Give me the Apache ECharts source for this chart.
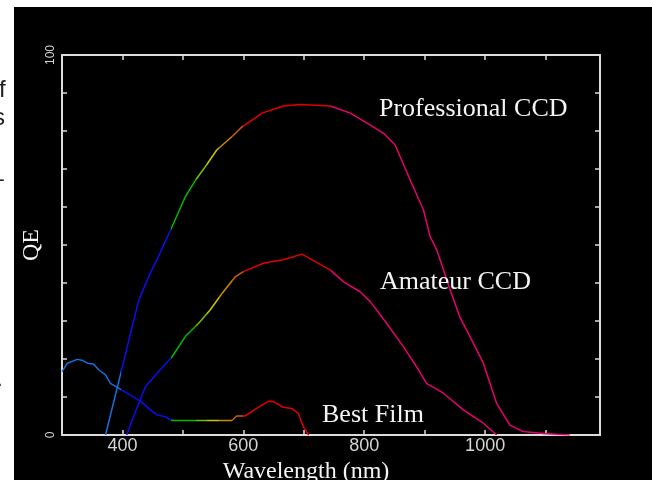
<!DOCTYPE html>
<html>
<head>
<meta charset="utf-8">
<script src="https://cdn.jsdelivr.net/npm/echarts@6/dist/echarts.min.js"></script>
<style>
html,body{margin:0;padding:0;background:#fff;}
#chart{width:652px;height:480px;}
</style>
</head>
<body>
<div id="chart"></div>
<script>
// Wavelength (nm) and QE (%)
const proX  = [372, 400, 416, 427, 446, 457, 482, 504, 521, 537, 556, 581, 598, 631, 666, 694, 744, 777, 815, 832, 851, 876, 898, 909, 920, 942, 958, 975, 997, 1019, 1041, 1063, 1096, 1140];
const proQE = [0, 18.0, 28.5, 35.5, 42.6, 46.1, 54.8, 62.7, 67.1, 70.6, 75.0, 78.5, 81.1, 84.7, 86.6, 87.0, 86.6, 84.7, 81.1, 79.4, 76.3, 67.1, 59.2, 52.2, 48.7, 38.2, 31.1, 25.9, 18.9, 8.3, 2.6, 0.9, 0.4, 0];

const amaX  = [407, 416, 438, 457, 482, 504, 526, 545, 565, 587, 600, 633, 666, 697, 744, 766, 793, 810, 837, 865, 890, 903, 931, 964, 997, 1019];
const amaQE = [0, 3.9, 12.7, 16.2, 20.6, 25.9, 29.4, 32.9, 37.3, 41.7, 43.0, 45.2, 46.1, 47.6, 43.4, 40.3, 37.7, 35.1, 29.4, 23.2, 17.1, 13.6, 11.0, 6.6, 3.1, 0];

const filmX  = [300, 309, 325, 333, 342, 352, 361, 372, 380, 391, 413, 430, 446, 457, 471, 482, 581, 589, 603, 622, 642, 650, 666, 680, 691, 699, 708];
const filmQE = [16.7, 18.9, 19.9, 19.7, 18.9, 18.7, 17.1, 15.8, 13.6, 12.6, 10.5, 8.9, 6.6, 5.3, 4.8, 3.8, 3.8, 5.0, 5.0, 7.0, 8.9, 8.8, 7.3, 7.0, 5.7, 2.2, 0];

const seriesNames = ['Professional CCD', 'Amateur CCD', 'Best Film'];
const xTickLabels = [400, 600, 800, 1000];
const yTickLabels = [0, 100];

const zip = (xs, ys) => xs.map((x, i) => [x, ys[i]]);

const chart = echarts.init(document.getElementById('chart'), null, {renderer: 'canvas'});

const frame = '#dcdcdc';
const textWhite = '#f4f4f4';
const serif = '"Liberation Serif", "Times New Roman", serif';

function lineSeries(name, data) {
  return {
    name: name,
    type: 'line',
    data: data,
    showSymbol: false,
    symbol: 'none',
    smooth: false,
    lineStyle: {width: 1.5},
    xAxisIndex: 0,
    yAxisIndex: 0,
    z: 3
  };
}

chart.setOption({
  backgroundColor: '#ffffff',
  animation: false,
  grid: {left: 62, top: 55, right: 52, bottom: 45, outerBoundsMode: 'none'},
  visualMap: {
    type: 'piecewise',
    show: false,
    dimension: 0,
    seriesIndex: [0, 1, 2],
    pieces: [
      {lt: 397, color: '#1470dc'},
      {gte: 397, lt: 480, color: '#0c0cf0'},
      {gte: 480, lt: 522, color: '#00b800'},
      {gte: 522, lt: 540, color: '#70c000'},
      {gte: 540, lt: 560, color: '#c8c400'},
      {gte: 560, lt: 582, color: '#cc8800'},
      {gte: 582, lt: 600, color: '#cc6000'},
      {gte: 600, lt: 745, color: '#e00000'},
      {gte: 745, color: '#e8006c'}
    ]
  },
  xAxis: [
    {
      type: 'value', position: 'bottom', min: 300, max: 1190, interval: 100,
      name: 'Wavelength (nm)', nameLocation: 'middle', nameGap: 21,
      nameTextStyle: {color: textWhite, fontFamily: serif, fontSize: 24, padding: [0, 50, 0, 0]},
      axisLine: {show: true, onZero: false, lineStyle: {color: frame, width: 2}},
      axisTick: {show: true, inside: true, length: 5, lineStyle: {color: frame, width: 1.5}},
      axisLabel: {
        show: true, margin: 2, color: '#d4d4d4',
        fontFamily: '"Liberation Sans", Arial, sans-serif', fontSize: 18,
        formatter: v => xTickLabels.includes(v) ? String(v) : ''
      },
      splitLine: {show: false}
    },
    {
      type: 'value', position: 'top', min: 300, max: 1190, interval: 100,
      axisLine: {show: true, onZero: false, lineStyle: {color: frame, width: 2}},
      axisTick: {show: true, inside: true, length: 5, lineStyle: {color: frame, width: 1.5}},
      axisLabel: {show: false},
      splitLine: {show: false}
    }
  ],
  yAxis: [
    {
      type: 'value', position: 'left', min: 0, max: 100, interval: 10,
      name: 'QE', nameLocation: 'middle', nameGap: 18, nameRotate: 90, nameMoveOverlap: false,
      nameTextStyle: {color: textWhite, fontFamily: serif, fontSize: 24},
      axisLine: {show: true, onZero: false, lineStyle: {color: frame, width: 2}},
      axisTick: {show: true, inside: true, length: 5, lineStyle: {color: frame, width: 1.5}},
      axisLabel: {
        show: true, rotate: 90, margin: 5, color: '#d4d4d4',
        fontFamily: '"Liberation Sans", Arial, sans-serif', fontSize: 12,
        formatter: v => yTickLabels.includes(v) ? String(v) : ''
      },
      splitLine: {show: false}
    },
    {
      type: 'value', position: 'right', min: 0, max: 100, interval: 10,
      axisLine: {show: true, onZero: false, lineStyle: {color: frame, width: 2}},
      axisTick: {show: true, inside: true, length: 5, lineStyle: {color: frame, width: 1.5}},
      axisLabel: {show: false},
      splitLine: {show: false}
    }
  ],
  graphic: [
    {type: 'rect', z: -100, silent: true, shape: {x: 14, y: 7, width: 640, height: 475}, style: {fill: '#000000'}},
    {type: 'text', z: 100, left: 379, top: 96, style: {text: seriesNames[0], fill: textWhite, font: '26px ' + serif}},
    {type: 'text', z: 100, left: 380, top: 269, style: {text: seriesNames[1], fill: textWhite, font: '26px ' + serif}},
    {type: 'text', z: 100, left: 322, top: 402, style: {text: seriesNames[2], fill: textWhite, font: '26px ' + serif}},
    {type: 'text', z: 100, left: -1, top: 78, style: {text: 'f', fill: '#222', font: '24px "Liberation Sans", sans-serif'}},
    {type: 'text', z: 100, left: -7, top: 106, style: {text: 's', fill: '#222', font: '24px "Liberation Sans", sans-serif'}},
    {type: 'text', z: 100, left: -2, top: 170, style: {text: '-', fill: '#222', font: '20px "Liberation Sans", sans-serif'}},
    {type: 'text', z: 100, left: -3, top: 370, style: {text: '.', fill: '#222', font: '20px "Liberation Sans", sans-serif'}}
  ],
  series: [
    lineSeries(seriesNames[0], zip(proX, proQE)),
    lineSeries(seriesNames[1], zip(amaX, amaQE)),
    lineSeries(seriesNames[2], zip(filmX, filmQE))
  ]
});
</script>
</body>
</html>
